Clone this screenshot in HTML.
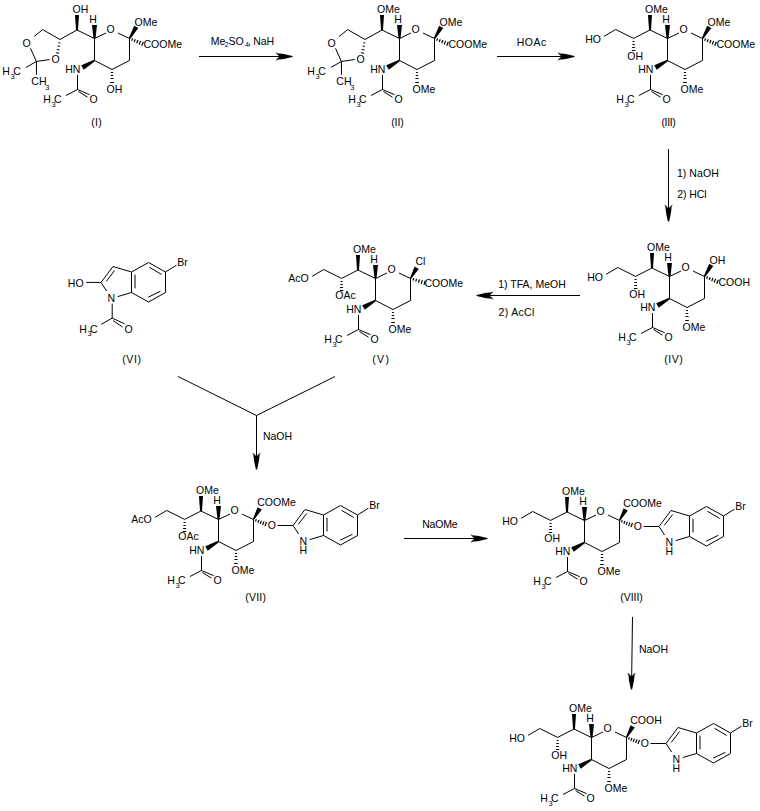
<!DOCTYPE html>
<html><head><meta charset="utf-8"><style>
html,body{margin:0;padding:0;background:#fff;}
svg{display:block;}
</style></head><body>
<svg width="760" height="811" viewBox="0 0 760 811">
<rect width="760" height="811" fill="#fff"/>
<g stroke="#000" fill="#000" font-family="Liberation Sans, sans-serif">
<g transform="translate(0,0)">
<line x1="94.50" y1="38.50" x2="106.00" y2="33.00" stroke-width="1.0"/>
<line x1="118.00" y1="33.00" x2="129.50" y2="38.50" stroke-width="1.0"/>
<line x1="129.50" y1="38.50" x2="129.50" y2="60.50" stroke-width="1.0"/>
<line x1="129.50" y1="60.50" x2="112.00" y2="69.50" stroke-width="1.0"/>
<line x1="112.00" y1="69.50" x2="94.50" y2="60.50" stroke-width="1.0"/>
<line x1="94.50" y1="60.50" x2="94.50" y2="38.50" stroke-width="1.0"/>
<text stroke="none" x="106.50" y="33.00" font-size="10.5">O</text>
<polygon stroke="none" points="93.50,38.50 95.50,38.50 97.00,25.00 92.00,25.00"/>
<text stroke="none" x="89.14" y="23.00" font-size="10.5">H</text>
<line x1="77.00" y1="30.00" x2="94.50" y2="38.50" stroke-width="1.0"/>
<polygon stroke="none" points="76.00,30.00 78.00,30.00 79.00,15.00 75.00,15.00"/>
<text stroke="none" x="72.50" y="13.00" font-size="10.5">OH</text>
<polygon stroke="none" points="94.88,61.15 94.12,59.85 81.24,65.34 83.76,69.66"/>
<text stroke="none" x="65.14" y="73.00" font-size="10.5">HN</text>
<line x1="77.50" y1="75.00" x2="77.50" y2="89.50" stroke-width="1.0"/>
<line x1="77.50" y1="89.50" x2="66.00" y2="95.50" stroke-width="1.0"/>
<line x1="77.50" y1="89.50" x2="89.70" y2="94.70" stroke-width="1.0"/>
<line x1="78.50" y1="91.50" x2="87.50" y2="97.20" stroke-width="1.0"/>
<text stroke="none" x="43.14" y="103.00" font-size="10.5">H</text>
<text stroke="none" x="51.51" y="106.80" font-size="7.5">3</text>
<text stroke="none" x="54.07" y="103.00" font-size="10.5">C</text>
<text stroke="none" x="89.50" y="103.00" font-size="10.5">O</text>
<line x1="110.99" y1="72.50" x2="113.01" y2="72.50" stroke-width="1.0"/>
<line x1="110.72" y1="75.50" x2="113.28" y2="75.50" stroke-width="1.0"/>
<line x1="110.46" y1="78.50" x2="113.54" y2="78.50" stroke-width="1.0"/>
<line x1="110.20" y1="82.50" x2="113.80" y2="82.50" stroke-width="1.0"/>
<text stroke="none" x="106.50" y="93.00" font-size="10.5">OH</text>
<line x1="77.00" y1="30.00" x2="60.00" y2="39.50" stroke-width="1.0"/>
<line x1="58.43" y1="42.70" x2="60.32" y2="43.05" stroke-width="1.0"/>
<line x1="57.59" y1="46.04" x2="59.91" y2="46.46" stroke-width="1.0"/>
<line x1="56.76" y1="49.37" x2="59.49" y2="49.88" stroke-width="1.0"/>
<line x1="55.93" y1="52.71" x2="59.07" y2="53.29" stroke-width="1.0"/>
<line x1="60.00" y1="39.50" x2="42.70" y2="29.60" stroke-width="1.0"/>
<line x1="42.70" y1="29.60" x2="34.10" y2="36.50" stroke-width="1.0"/>
<text stroke="none" x="22.50" y="47.00" font-size="10.5">O</text>
<line x1="30.50" y1="48.30" x2="36.40" y2="61.50" stroke-width="1.0"/>
<line x1="36.40" y1="61.50" x2="49.60" y2="59.50" stroke-width="1.0"/>
<text stroke="none" x="51.50" y="63.00" font-size="10.5">O</text>
<line x1="36.40" y1="61.50" x2="25.90" y2="67.40" stroke-width="1.0"/>
<line x1="36.40" y1="61.50" x2="36.50" y2="74.75" stroke-width="1.0"/>
<text stroke="none" x="2.24" y="75.00" font-size="10.5">H</text>
<text stroke="none" x="10.61" y="78.80" font-size="7.5">3</text>
<text stroke="none" x="13.17" y="75.00" font-size="10.5">C</text>
<text stroke="none" x="31.37" y="85.00" font-size="10.5">CH</text>
<text stroke="none" x="45.31" y="89.50" font-size="7.5">3</text>
<polygon stroke="none" points="128.85,38.12 130.15,38.88 138.32,28.11 134.18,25.69"/>
<text stroke="none" x="134.50" y="26.00" font-size="10.5">OMe</text>
<line x1="131.64" y1="40.70" x2="132.56" y2="38.40" stroke-width="1.2"/>
<line x1="134.15" y1="41.97" x2="135.25" y2="39.23" stroke-width="1.2"/>
<line x1="136.66" y1="43.24" x2="137.94" y2="40.06" stroke-width="1.2"/>
<line x1="139.17" y1="44.52" x2="140.63" y2="40.88" stroke-width="1.2"/>
<line x1="141.68" y1="45.79" x2="143.32" y2="41.71" stroke-width="1.2"/>
<text stroke="none" x="143.47" y="48.00" font-size="10.5">COOMe</text>
</g>
<g transform="translate(305,0)">
<line x1="94.50" y1="38.50" x2="106.00" y2="33.00" stroke-width="1.0"/>
<line x1="118.00" y1="33.00" x2="129.50" y2="38.50" stroke-width="1.0"/>
<line x1="129.50" y1="38.50" x2="129.50" y2="60.50" stroke-width="1.0"/>
<line x1="129.50" y1="60.50" x2="112.00" y2="69.50" stroke-width="1.0"/>
<line x1="112.00" y1="69.50" x2="94.50" y2="60.50" stroke-width="1.0"/>
<line x1="94.50" y1="60.50" x2="94.50" y2="38.50" stroke-width="1.0"/>
<text stroke="none" x="106.50" y="33.00" font-size="10.5">O</text>
<polygon stroke="none" points="93.50,38.50 95.50,38.50 97.00,25.00 92.00,25.00"/>
<text stroke="none" x="89.14" y="23.00" font-size="10.5">H</text>
<line x1="77.00" y1="30.00" x2="94.50" y2="38.50" stroke-width="1.0"/>
<polygon stroke="none" points="76.00,30.00 78.00,30.00 79.00,15.00 75.00,15.00"/>
<text stroke="none" x="72.10" y="13.00" font-size="10.5">OMe</text>
<polygon stroke="none" points="94.88,61.15 94.12,59.85 81.24,65.34 83.76,69.66"/>
<text stroke="none" x="65.14" y="73.00" font-size="10.5">HN</text>
<line x1="77.50" y1="75.00" x2="77.50" y2="89.50" stroke-width="1.0"/>
<line x1="77.50" y1="89.50" x2="66.00" y2="95.50" stroke-width="1.0"/>
<line x1="77.50" y1="89.50" x2="89.70" y2="94.70" stroke-width="1.0"/>
<line x1="78.50" y1="91.50" x2="87.50" y2="97.20" stroke-width="1.0"/>
<text stroke="none" x="43.14" y="103.00" font-size="10.5">H</text>
<text stroke="none" x="51.51" y="106.80" font-size="7.5">3</text>
<text stroke="none" x="54.07" y="103.00" font-size="10.5">C</text>
<text stroke="none" x="89.50" y="103.00" font-size="10.5">O</text>
<line x1="110.99" y1="72.50" x2="113.01" y2="72.50" stroke-width="1.0"/>
<line x1="110.72" y1="75.50" x2="113.28" y2="75.50" stroke-width="1.0"/>
<line x1="110.46" y1="78.50" x2="113.54" y2="78.50" stroke-width="1.0"/>
<line x1="110.20" y1="82.50" x2="113.80" y2="82.50" stroke-width="1.0"/>
<text stroke="none" x="107.50" y="93.00" font-size="10.5">OMe</text>
<line x1="77.00" y1="30.00" x2="60.00" y2="39.50" stroke-width="1.0"/>
<line x1="58.43" y1="42.70" x2="60.32" y2="43.05" stroke-width="1.0"/>
<line x1="57.59" y1="46.04" x2="59.91" y2="46.46" stroke-width="1.0"/>
<line x1="56.76" y1="49.37" x2="59.49" y2="49.88" stroke-width="1.0"/>
<line x1="55.93" y1="52.71" x2="59.07" y2="53.29" stroke-width="1.0"/>
<line x1="60.00" y1="39.50" x2="42.70" y2="29.60" stroke-width="1.0"/>
<line x1="42.70" y1="29.60" x2="34.10" y2="36.50" stroke-width="1.0"/>
<text stroke="none" x="22.50" y="47.00" font-size="10.5">O</text>
<line x1="30.50" y1="48.30" x2="36.40" y2="61.50" stroke-width="1.0"/>
<line x1="36.40" y1="61.50" x2="49.60" y2="59.50" stroke-width="1.0"/>
<text stroke="none" x="51.50" y="63.00" font-size="10.5">O</text>
<line x1="36.40" y1="61.50" x2="25.90" y2="67.40" stroke-width="1.0"/>
<line x1="36.40" y1="61.50" x2="36.50" y2="74.75" stroke-width="1.0"/>
<text stroke="none" x="2.24" y="75.00" font-size="10.5">H</text>
<text stroke="none" x="10.61" y="78.80" font-size="7.5">3</text>
<text stroke="none" x="13.17" y="75.00" font-size="10.5">C</text>
<text stroke="none" x="31.37" y="85.00" font-size="10.5">CH</text>
<text stroke="none" x="45.31" y="89.50" font-size="7.5">3</text>
<polygon stroke="none" points="128.85,38.12 130.15,38.88 138.32,28.11 134.18,25.69"/>
<text stroke="none" x="134.50" y="26.00" font-size="10.5">OMe</text>
<line x1="131.64" y1="40.70" x2="132.56" y2="38.40" stroke-width="1.2"/>
<line x1="134.15" y1="41.97" x2="135.25" y2="39.23" stroke-width="1.2"/>
<line x1="136.66" y1="43.24" x2="137.94" y2="40.06" stroke-width="1.2"/>
<line x1="139.17" y1="44.52" x2="140.63" y2="40.88" stroke-width="1.2"/>
<line x1="141.68" y1="45.79" x2="143.32" y2="41.71" stroke-width="1.2"/>
<text stroke="none" x="143.47" y="48.00" font-size="10.5">COOMe</text>
</g>
<g transform="translate(573,0)">
<line x1="94.50" y1="38.50" x2="106.00" y2="33.00" stroke-width="1.0"/>
<line x1="118.00" y1="33.00" x2="129.50" y2="38.50" stroke-width="1.0"/>
<line x1="129.50" y1="38.50" x2="129.50" y2="60.50" stroke-width="1.0"/>
<line x1="129.50" y1="60.50" x2="112.00" y2="69.50" stroke-width="1.0"/>
<line x1="112.00" y1="69.50" x2="94.50" y2="60.50" stroke-width="1.0"/>
<line x1="94.50" y1="60.50" x2="94.50" y2="38.50" stroke-width="1.0"/>
<text stroke="none" x="106.50" y="33.00" font-size="10.5">O</text>
<polygon stroke="none" points="93.50,38.50 95.50,38.50 97.00,25.00 92.00,25.00"/>
<text stroke="none" x="89.14" y="23.00" font-size="10.5">H</text>
<line x1="77.00" y1="30.00" x2="94.50" y2="38.50" stroke-width="1.0"/>
<polygon stroke="none" points="76.00,30.00 78.00,30.00 79.00,15.00 75.00,15.00"/>
<text stroke="none" x="72.10" y="13.00" font-size="10.5">OMe</text>
<polygon stroke="none" points="94.88,61.15 94.12,59.85 81.24,65.34 83.76,69.66"/>
<text stroke="none" x="65.14" y="73.00" font-size="10.5">HN</text>
<line x1="77.50" y1="75.00" x2="77.50" y2="89.50" stroke-width="1.0"/>
<line x1="77.50" y1="89.50" x2="66.00" y2="95.50" stroke-width="1.0"/>
<line x1="77.50" y1="89.50" x2="89.70" y2="94.70" stroke-width="1.0"/>
<line x1="78.50" y1="91.50" x2="87.50" y2="97.20" stroke-width="1.0"/>
<text stroke="none" x="43.14" y="103.00" font-size="10.5">H</text>
<text stroke="none" x="51.51" y="106.80" font-size="7.5">3</text>
<text stroke="none" x="54.07" y="103.00" font-size="10.5">C</text>
<text stroke="none" x="89.50" y="103.00" font-size="10.5">O</text>
<line x1="110.99" y1="72.50" x2="113.01" y2="72.50" stroke-width="1.0"/>
<line x1="110.72" y1="75.50" x2="113.28" y2="75.50" stroke-width="1.0"/>
<line x1="110.46" y1="78.50" x2="113.54" y2="78.50" stroke-width="1.0"/>
<line x1="110.20" y1="82.50" x2="113.80" y2="82.50" stroke-width="1.0"/>
<text stroke="none" x="107.50" y="93.00" font-size="10.5">OMe</text>
<line x1="77.00" y1="30.00" x2="60.60" y2="38.40" stroke-width="1.0"/>
<line x1="59.61" y1="41.50" x2="61.59" y2="41.50" stroke-width="1.0"/>
<line x1="59.38" y1="44.50" x2="61.83" y2="44.50" stroke-width="1.0"/>
<line x1="59.14" y1="47.50" x2="62.06" y2="47.50" stroke-width="1.0"/>
<line x1="58.90" y1="50.50" x2="62.30" y2="50.50" stroke-width="1.0"/>
<text stroke="none" x="54.30" y="60.00" font-size="10.5">OH</text>
<line x1="60.60" y1="38.40" x2="42.70" y2="29.50" stroke-width="1.0"/>
<line x1="42.70" y1="29.50" x2="31.10" y2="36.30" stroke-width="1.0"/>
<text stroke="none" x="12.14" y="43.00" font-size="10.5">HO</text>
<polygon stroke="none" points="128.85,38.12 130.15,38.88 138.32,28.11 134.18,25.69"/>
<text stroke="none" x="134.50" y="26.00" font-size="10.5">OMe</text>
<line x1="131.64" y1="40.70" x2="132.56" y2="38.40" stroke-width="1.2"/>
<line x1="134.15" y1="41.97" x2="135.25" y2="39.23" stroke-width="1.2"/>
<line x1="136.66" y1="43.24" x2="137.94" y2="40.06" stroke-width="1.2"/>
<line x1="139.17" y1="44.52" x2="140.63" y2="40.88" stroke-width="1.2"/>
<line x1="141.68" y1="45.79" x2="143.32" y2="41.71" stroke-width="1.2"/>
<text stroke="none" x="143.47" y="48.00" font-size="10.5">COOMe</text>
</g>
<g transform="translate(575,238)">
<line x1="94.50" y1="38.50" x2="106.00" y2="33.00" stroke-width="1.0"/>
<line x1="118.00" y1="33.00" x2="129.50" y2="38.50" stroke-width="1.0"/>
<line x1="129.50" y1="38.50" x2="129.50" y2="60.50" stroke-width="1.0"/>
<line x1="129.50" y1="60.50" x2="112.00" y2="69.50" stroke-width="1.0"/>
<line x1="112.00" y1="69.50" x2="94.50" y2="60.50" stroke-width="1.0"/>
<line x1="94.50" y1="60.50" x2="94.50" y2="38.50" stroke-width="1.0"/>
<text stroke="none" x="106.50" y="33.00" font-size="10.5">O</text>
<polygon stroke="none" points="93.50,38.50 95.50,38.50 97.00,25.00 92.00,25.00"/>
<text stroke="none" x="89.14" y="23.00" font-size="10.5">H</text>
<line x1="77.00" y1="30.00" x2="94.50" y2="38.50" stroke-width="1.0"/>
<polygon stroke="none" points="76.00,30.00 78.00,30.00 79.00,15.00 75.00,15.00"/>
<text stroke="none" x="72.10" y="13.00" font-size="10.5">OMe</text>
<polygon stroke="none" points="94.88,61.15 94.12,59.85 81.24,65.34 83.76,69.66"/>
<text stroke="none" x="65.14" y="73.00" font-size="10.5">HN</text>
<line x1="77.50" y1="75.00" x2="77.50" y2="89.50" stroke-width="1.0"/>
<line x1="77.50" y1="89.50" x2="66.00" y2="95.50" stroke-width="1.0"/>
<line x1="77.50" y1="89.50" x2="89.70" y2="94.70" stroke-width="1.0"/>
<line x1="78.50" y1="91.50" x2="87.50" y2="97.20" stroke-width="1.0"/>
<text stroke="none" x="43.14" y="103.00" font-size="10.5">H</text>
<text stroke="none" x="51.51" y="106.80" font-size="7.5">3</text>
<text stroke="none" x="54.07" y="103.00" font-size="10.5">C</text>
<text stroke="none" x="89.50" y="103.00" font-size="10.5">O</text>
<line x1="110.99" y1="72.50" x2="113.01" y2="72.50" stroke-width="1.0"/>
<line x1="110.72" y1="75.50" x2="113.28" y2="75.50" stroke-width="1.0"/>
<line x1="110.46" y1="78.50" x2="113.54" y2="78.50" stroke-width="1.0"/>
<line x1="110.20" y1="82.50" x2="113.80" y2="82.50" stroke-width="1.0"/>
<text stroke="none" x="107.50" y="93.00" font-size="10.5">OMe</text>
<line x1="77.00" y1="30.00" x2="60.60" y2="38.40" stroke-width="1.0"/>
<line x1="59.61" y1="41.50" x2="61.59" y2="41.50" stroke-width="1.0"/>
<line x1="59.38" y1="44.50" x2="61.83" y2="44.50" stroke-width="1.0"/>
<line x1="59.14" y1="47.50" x2="62.06" y2="47.50" stroke-width="1.0"/>
<line x1="58.90" y1="50.50" x2="62.30" y2="50.50" stroke-width="1.0"/>
<text stroke="none" x="54.30" y="60.00" font-size="10.5">OH</text>
<line x1="60.60" y1="38.40" x2="42.70" y2="29.50" stroke-width="1.0"/>
<line x1="42.70" y1="29.50" x2="31.10" y2="36.30" stroke-width="1.0"/>
<text stroke="none" x="12.14" y="43.00" font-size="10.5">HO</text>
<polygon stroke="none" points="128.85,38.12 130.15,38.88 138.32,28.11 134.18,25.69"/>
<text stroke="none" x="134.50" y="26.00" font-size="10.5">OH</text>
<line x1="131.64" y1="40.70" x2="132.56" y2="38.40" stroke-width="1.2"/>
<line x1="134.15" y1="41.97" x2="135.25" y2="39.23" stroke-width="1.2"/>
<line x1="136.66" y1="43.24" x2="137.94" y2="40.06" stroke-width="1.2"/>
<line x1="139.17" y1="44.52" x2="140.63" y2="40.88" stroke-width="1.2"/>
<line x1="141.68" y1="45.79" x2="143.32" y2="41.71" stroke-width="1.2"/>
<text stroke="none" x="143.47" y="48.00" font-size="10.5">COOH</text>
</g>
<g transform="translate(281,240)">
<line x1="94.50" y1="38.50" x2="106.00" y2="33.00" stroke-width="1.0"/>
<line x1="118.00" y1="33.00" x2="129.50" y2="38.50" stroke-width="1.0"/>
<line x1="129.50" y1="38.50" x2="129.50" y2="60.50" stroke-width="1.0"/>
<line x1="129.50" y1="60.50" x2="112.00" y2="69.50" stroke-width="1.0"/>
<line x1="112.00" y1="69.50" x2="94.50" y2="60.50" stroke-width="1.0"/>
<line x1="94.50" y1="60.50" x2="94.50" y2="38.50" stroke-width="1.0"/>
<text stroke="none" x="106.50" y="33.00" font-size="10.5">O</text>
<polygon stroke="none" points="93.50,38.50 95.50,38.50 97.00,25.00 92.00,25.00"/>
<text stroke="none" x="89.14" y="23.00" font-size="10.5">H</text>
<line x1="77.00" y1="30.00" x2="94.50" y2="38.50" stroke-width="1.0"/>
<polygon stroke="none" points="76.00,30.00 78.00,30.00 79.00,15.00 75.00,15.00"/>
<text stroke="none" x="72.10" y="13.00" font-size="10.5">OMe</text>
<polygon stroke="none" points="94.88,61.15 94.12,59.85 81.24,65.34 83.76,69.66"/>
<text stroke="none" x="65.14" y="73.00" font-size="10.5">HN</text>
<line x1="77.50" y1="75.00" x2="77.50" y2="89.50" stroke-width="1.0"/>
<line x1="77.50" y1="89.50" x2="66.00" y2="95.50" stroke-width="1.0"/>
<line x1="77.50" y1="89.50" x2="89.70" y2="94.70" stroke-width="1.0"/>
<line x1="78.50" y1="91.50" x2="87.50" y2="97.20" stroke-width="1.0"/>
<text stroke="none" x="43.14" y="103.00" font-size="10.5">H</text>
<text stroke="none" x="51.51" y="106.80" font-size="7.5">3</text>
<text stroke="none" x="54.07" y="103.00" font-size="10.5">C</text>
<text stroke="none" x="89.50" y="103.00" font-size="10.5">O</text>
<line x1="110.99" y1="72.50" x2="113.01" y2="72.50" stroke-width="1.0"/>
<line x1="110.72" y1="75.50" x2="113.28" y2="75.50" stroke-width="1.0"/>
<line x1="110.46" y1="78.50" x2="113.54" y2="78.50" stroke-width="1.0"/>
<line x1="110.20" y1="82.50" x2="113.80" y2="82.50" stroke-width="1.0"/>
<text stroke="none" x="107.50" y="93.00" font-size="10.5">OMe</text>
<line x1="77.00" y1="30.00" x2="60.60" y2="38.40" stroke-width="1.0"/>
<line x1="59.61" y1="41.50" x2="61.59" y2="41.50" stroke-width="1.0"/>
<line x1="59.38" y1="44.50" x2="61.83" y2="44.50" stroke-width="1.0"/>
<line x1="59.14" y1="47.50" x2="62.06" y2="47.50" stroke-width="1.0"/>
<line x1="58.90" y1="50.50" x2="62.30" y2="50.50" stroke-width="1.0"/>
<text stroke="none" x="54.30" y="59.00" font-size="10.5">OAc</text>
<line x1="60.60" y1="38.40" x2="42.70" y2="29.50" stroke-width="1.0"/>
<line x1="42.70" y1="29.50" x2="31.10" y2="36.30" stroke-width="1.0"/>
<text stroke="none" x="7.18" y="42.00" font-size="10.5">AcO</text>
<polygon stroke="none" points="128.85,38.13 130.15,38.87 137.78,28.89 133.62,26.51"/>
<text stroke="none" x="134.47" y="25.00" font-size="10.5">Cl</text>
<line x1="131.96" y1="40.55" x2="132.68" y2="38.17" stroke-width="1.2"/>
<line x1="134.71" y1="41.64" x2="135.57" y2="38.80" stroke-width="1.2"/>
<line x1="137.46" y1="42.73" x2="138.46" y2="39.43" stroke-width="1.2"/>
<line x1="140.21" y1="43.81" x2="141.35" y2="40.07" stroke-width="1.2"/>
<line x1="142.96" y1="44.90" x2="144.24" y2="40.70" stroke-width="1.2"/>
<text stroke="none" x="143.47" y="47.00" font-size="10.5">COOMe</text>
</g>
<g transform="translate(124,481)">
<line x1="94.50" y1="38.50" x2="106.00" y2="33.00" stroke-width="1.0"/>
<line x1="118.00" y1="33.00" x2="129.50" y2="38.50" stroke-width="1.0"/>
<line x1="129.50" y1="38.50" x2="129.50" y2="60.50" stroke-width="1.0"/>
<line x1="129.50" y1="60.50" x2="112.00" y2="69.50" stroke-width="1.0"/>
<line x1="112.00" y1="69.50" x2="94.50" y2="60.50" stroke-width="1.0"/>
<line x1="94.50" y1="60.50" x2="94.50" y2="38.50" stroke-width="1.0"/>
<text stroke="none" x="106.50" y="33.00" font-size="10.5">O</text>
<polygon stroke="none" points="93.50,38.50 95.50,38.50 97.00,25.00 92.00,25.00"/>
<text stroke="none" x="89.14" y="23.00" font-size="10.5">H</text>
<line x1="77.00" y1="30.00" x2="94.50" y2="38.50" stroke-width="1.0"/>
<polygon stroke="none" points="76.00,30.00 78.00,30.00 79.00,15.00 75.00,15.00"/>
<text stroke="none" x="72.10" y="13.00" font-size="10.5">OMe</text>
<polygon stroke="none" points="94.88,61.15 94.12,59.85 81.24,65.34 83.76,69.66"/>
<text stroke="none" x="65.14" y="73.00" font-size="10.5">HN</text>
<line x1="77.50" y1="75.00" x2="77.50" y2="89.50" stroke-width="1.0"/>
<line x1="77.50" y1="89.50" x2="66.00" y2="95.50" stroke-width="1.0"/>
<line x1="77.50" y1="89.50" x2="89.70" y2="94.70" stroke-width="1.0"/>
<line x1="78.50" y1="91.50" x2="87.50" y2="97.20" stroke-width="1.0"/>
<text stroke="none" x="43.14" y="103.00" font-size="10.5">H</text>
<text stroke="none" x="51.51" y="106.80" font-size="7.5">3</text>
<text stroke="none" x="54.07" y="103.00" font-size="10.5">C</text>
<text stroke="none" x="89.50" y="103.00" font-size="10.5">O</text>
<line x1="110.99" y1="72.50" x2="113.01" y2="72.50" stroke-width="1.0"/>
<line x1="110.72" y1="75.50" x2="113.28" y2="75.50" stroke-width="1.0"/>
<line x1="110.46" y1="78.50" x2="113.54" y2="78.50" stroke-width="1.0"/>
<line x1="110.20" y1="82.50" x2="113.80" y2="82.50" stroke-width="1.0"/>
<text stroke="none" x="107.50" y="93.00" font-size="10.5">OMe</text>
<line x1="77.00" y1="30.00" x2="60.60" y2="38.40" stroke-width="1.0"/>
<line x1="59.61" y1="41.50" x2="61.59" y2="41.50" stroke-width="1.0"/>
<line x1="59.38" y1="44.50" x2="61.83" y2="44.50" stroke-width="1.0"/>
<line x1="59.14" y1="47.50" x2="62.06" y2="47.50" stroke-width="1.0"/>
<line x1="58.90" y1="50.50" x2="62.30" y2="50.50" stroke-width="1.0"/>
<text stroke="none" x="54.30" y="59.00" font-size="10.5">OAc</text>
<line x1="60.60" y1="38.40" x2="42.70" y2="29.50" stroke-width="1.0"/>
<line x1="42.70" y1="29.50" x2="31.10" y2="36.30" stroke-width="1.0"/>
<text stroke="none" x="7.18" y="42.00" font-size="10.5">AcO</text>
<polygon stroke="none" points="128.84,38.14 130.16,38.86 137.80,28.46 133.60,26.14"/>
<text stroke="none" x="133.27" y="25.00" font-size="10.5">COOMe</text>
<line x1="131.50" y1="40.58" x2="132.38" y2="38.26" stroke-width="1.2"/>
<line x1="133.86" y1="41.72" x2="134.90" y2="38.96" stroke-width="1.2"/>
<line x1="136.21" y1="42.87" x2="137.43" y2="39.65" stroke-width="1.2"/>
<line x1="138.57" y1="44.01" x2="139.95" y2="40.35" stroke-width="1.2"/>
<line x1="140.92" y1="45.16" x2="142.48" y2="41.04" stroke-width="1.2"/>
<text stroke="none" x="143.80" y="48.00" font-size="10.5">O</text>
<line x1="153.50" y1="44.50" x2="169.00" y2="44.50" stroke-width="1.0"/>
<g transform="translate(-124,-481)">
<line x1="293.00" y1="525.50" x2="305.00" y2="509.50" stroke-width="1.0"/>
<line x1="305.00" y1="509.50" x2="323.50" y2="515.00" stroke-width="1.0"/>
<line x1="323.50" y1="515.00" x2="340.50" y2="505.50" stroke-width="1.0"/>
<line x1="340.50" y1="505.50" x2="357.50" y2="515.00" stroke-width="1.0"/>
<line x1="357.50" y1="515.00" x2="357.50" y2="535.50" stroke-width="1.0"/>
<line x1="357.50" y1="535.50" x2="340.50" y2="545.00" stroke-width="1.0"/>
<line x1="340.50" y1="545.00" x2="323.50" y2="535.50" stroke-width="1.0"/>
<line x1="323.50" y1="535.50" x2="323.50" y2="515.00" stroke-width="1.0"/>
<line x1="323.50" y1="535.50" x2="309.70" y2="539.60" stroke-width="1.0"/>
<line x1="298.60" y1="534.00" x2="293.00" y2="525.50" stroke-width="1.0"/>
<line x1="298.30" y1="524.40" x2="306.60" y2="513.50" stroke-width="1.0"/>
<line x1="327.00" y1="517.60" x2="327.00" y2="531.40" stroke-width="1.0"/>
<line x1="341.50" y1="510.30" x2="353.70" y2="517.50" stroke-width="1.0"/>
<line x1="340.20" y1="540.20" x2="352.40" y2="534.30" stroke-width="1.0"/>
<text stroke="none" x="299.54" y="545.00" font-size="10.5">N</text>
<text stroke="none" x="299.54" y="554.00" font-size="10.5">H</text>
<line x1="357.50" y1="515.00" x2="368.40" y2="508.20" stroke-width="1.0"/>
<text stroke="none" x="369.14" y="509.00" font-size="10.5">Br</text>
</g>
</g>
<g transform="translate(490,482)">
<line x1="94.50" y1="38.50" x2="106.00" y2="33.00" stroke-width="1.0"/>
<line x1="118.00" y1="33.00" x2="129.50" y2="38.50" stroke-width="1.0"/>
<line x1="129.50" y1="38.50" x2="129.50" y2="60.50" stroke-width="1.0"/>
<line x1="129.50" y1="60.50" x2="112.00" y2="69.50" stroke-width="1.0"/>
<line x1="112.00" y1="69.50" x2="94.50" y2="60.50" stroke-width="1.0"/>
<line x1="94.50" y1="60.50" x2="94.50" y2="38.50" stroke-width="1.0"/>
<text stroke="none" x="106.50" y="33.00" font-size="10.5">O</text>
<polygon stroke="none" points="93.50,38.50 95.50,38.50 97.00,25.00 92.00,25.00"/>
<text stroke="none" x="89.14" y="23.00" font-size="10.5">H</text>
<line x1="77.00" y1="30.00" x2="94.50" y2="38.50" stroke-width="1.0"/>
<polygon stroke="none" points="76.00,30.00 78.00,30.00 79.00,15.00 75.00,15.00"/>
<text stroke="none" x="72.10" y="13.00" font-size="10.5">OMe</text>
<polygon stroke="none" points="94.88,61.15 94.12,59.85 81.24,65.34 83.76,69.66"/>
<text stroke="none" x="65.14" y="73.00" font-size="10.5">HN</text>
<line x1="77.50" y1="75.00" x2="77.50" y2="89.50" stroke-width="1.0"/>
<line x1="77.50" y1="89.50" x2="66.00" y2="95.50" stroke-width="1.0"/>
<line x1="77.50" y1="89.50" x2="89.70" y2="94.70" stroke-width="1.0"/>
<line x1="78.50" y1="91.50" x2="87.50" y2="97.20" stroke-width="1.0"/>
<text stroke="none" x="43.14" y="103.00" font-size="10.5">H</text>
<text stroke="none" x="51.51" y="106.80" font-size="7.5">3</text>
<text stroke="none" x="54.07" y="103.00" font-size="10.5">C</text>
<text stroke="none" x="89.50" y="103.00" font-size="10.5">O</text>
<line x1="110.99" y1="72.50" x2="113.01" y2="72.50" stroke-width="1.0"/>
<line x1="110.72" y1="75.50" x2="113.28" y2="75.50" stroke-width="1.0"/>
<line x1="110.46" y1="78.50" x2="113.54" y2="78.50" stroke-width="1.0"/>
<line x1="110.20" y1="82.50" x2="113.80" y2="82.50" stroke-width="1.0"/>
<text stroke="none" x="107.50" y="93.00" font-size="10.5">OMe</text>
<line x1="77.00" y1="30.00" x2="60.60" y2="38.40" stroke-width="1.0"/>
<line x1="59.61" y1="41.50" x2="61.59" y2="41.50" stroke-width="1.0"/>
<line x1="59.38" y1="44.50" x2="61.83" y2="44.50" stroke-width="1.0"/>
<line x1="59.14" y1="47.50" x2="62.06" y2="47.50" stroke-width="1.0"/>
<line x1="58.90" y1="50.50" x2="62.30" y2="50.50" stroke-width="1.0"/>
<text stroke="none" x="54.30" y="60.00" font-size="10.5">OH</text>
<line x1="60.60" y1="38.40" x2="42.70" y2="29.50" stroke-width="1.0"/>
<line x1="42.70" y1="29.50" x2="31.10" y2="36.30" stroke-width="1.0"/>
<text stroke="none" x="12.14" y="43.00" font-size="10.5">HO</text>
<polygon stroke="none" points="128.84,38.14 130.16,38.86 137.80,28.46 133.60,26.14"/>
<text stroke="none" x="133.27" y="25.00" font-size="10.5">COOMe</text>
<line x1="131.50" y1="40.58" x2="132.38" y2="38.26" stroke-width="1.2"/>
<line x1="133.86" y1="41.72" x2="134.90" y2="38.96" stroke-width="1.2"/>
<line x1="136.21" y1="42.87" x2="137.43" y2="39.65" stroke-width="1.2"/>
<line x1="138.57" y1="44.01" x2="139.95" y2="40.35" stroke-width="1.2"/>
<line x1="140.92" y1="45.16" x2="142.48" y2="41.04" stroke-width="1.2"/>
<text stroke="none" x="143.80" y="48.00" font-size="10.5">O</text>
<line x1="153.50" y1="44.50" x2="169.00" y2="44.50" stroke-width="1.0"/>
<g transform="translate(-124,-481)">
<line x1="293.00" y1="525.50" x2="305.00" y2="509.50" stroke-width="1.0"/>
<line x1="305.00" y1="509.50" x2="323.50" y2="515.00" stroke-width="1.0"/>
<line x1="323.50" y1="515.00" x2="340.50" y2="505.50" stroke-width="1.0"/>
<line x1="340.50" y1="505.50" x2="357.50" y2="515.00" stroke-width="1.0"/>
<line x1="357.50" y1="515.00" x2="357.50" y2="535.50" stroke-width="1.0"/>
<line x1="357.50" y1="535.50" x2="340.50" y2="545.00" stroke-width="1.0"/>
<line x1="340.50" y1="545.00" x2="323.50" y2="535.50" stroke-width="1.0"/>
<line x1="323.50" y1="535.50" x2="323.50" y2="515.00" stroke-width="1.0"/>
<line x1="323.50" y1="535.50" x2="309.70" y2="539.60" stroke-width="1.0"/>
<line x1="298.60" y1="534.00" x2="293.00" y2="525.50" stroke-width="1.0"/>
<line x1="298.30" y1="524.40" x2="306.60" y2="513.50" stroke-width="1.0"/>
<line x1="327.00" y1="517.60" x2="327.00" y2="531.40" stroke-width="1.0"/>
<line x1="341.50" y1="510.30" x2="353.70" y2="517.50" stroke-width="1.0"/>
<line x1="340.20" y1="540.20" x2="352.40" y2="534.30" stroke-width="1.0"/>
<text stroke="none" x="299.54" y="545.00" font-size="10.5">N</text>
<text stroke="none" x="299.54" y="554.00" font-size="10.5">H</text>
<line x1="357.50" y1="515.00" x2="368.40" y2="508.20" stroke-width="1.0"/>
<text stroke="none" x="369.14" y="509.00" font-size="10.5">Br</text>
</g>
</g>
<g transform="translate(497,699)">
<line x1="94.50" y1="38.50" x2="106.00" y2="33.00" stroke-width="1.0"/>
<line x1="118.00" y1="33.00" x2="129.50" y2="38.50" stroke-width="1.0"/>
<line x1="129.50" y1="38.50" x2="129.50" y2="60.50" stroke-width="1.0"/>
<line x1="129.50" y1="60.50" x2="112.00" y2="69.50" stroke-width="1.0"/>
<line x1="112.00" y1="69.50" x2="94.50" y2="60.50" stroke-width="1.0"/>
<line x1="94.50" y1="60.50" x2="94.50" y2="38.50" stroke-width="1.0"/>
<text stroke="none" x="106.50" y="33.00" font-size="10.5">O</text>
<polygon stroke="none" points="93.50,38.50 95.50,38.50 97.00,25.00 92.00,25.00"/>
<text stroke="none" x="89.14" y="23.00" font-size="10.5">H</text>
<line x1="77.00" y1="30.00" x2="94.50" y2="38.50" stroke-width="1.0"/>
<polygon stroke="none" points="76.00,30.00 78.00,30.00 79.00,15.00 75.00,15.00"/>
<text stroke="none" x="72.10" y="13.00" font-size="10.5">OMe</text>
<polygon stroke="none" points="94.88,61.15 94.12,59.85 81.24,65.34 83.76,69.66"/>
<text stroke="none" x="65.14" y="73.00" font-size="10.5">HN</text>
<line x1="77.50" y1="75.00" x2="77.50" y2="89.50" stroke-width="1.0"/>
<line x1="77.50" y1="89.50" x2="66.00" y2="95.50" stroke-width="1.0"/>
<line x1="77.50" y1="89.50" x2="89.70" y2="94.70" stroke-width="1.0"/>
<line x1="78.50" y1="91.50" x2="87.50" y2="97.20" stroke-width="1.0"/>
<text stroke="none" x="43.14" y="103.00" font-size="10.5">H</text>
<text stroke="none" x="51.51" y="106.80" font-size="7.5">3</text>
<text stroke="none" x="54.07" y="103.00" font-size="10.5">C</text>
<text stroke="none" x="89.50" y="103.00" font-size="10.5">O</text>
<line x1="110.99" y1="72.50" x2="113.01" y2="72.50" stroke-width="1.0"/>
<line x1="110.72" y1="75.50" x2="113.28" y2="75.50" stroke-width="1.0"/>
<line x1="110.46" y1="78.50" x2="113.54" y2="78.50" stroke-width="1.0"/>
<line x1="110.20" y1="82.50" x2="113.80" y2="82.50" stroke-width="1.0"/>
<text stroke="none" x="107.50" y="93.00" font-size="10.5">OMe</text>
<line x1="77.00" y1="30.00" x2="60.60" y2="38.40" stroke-width="1.0"/>
<line x1="59.61" y1="41.50" x2="61.59" y2="41.50" stroke-width="1.0"/>
<line x1="59.38" y1="44.50" x2="61.83" y2="44.50" stroke-width="1.0"/>
<line x1="59.14" y1="47.50" x2="62.06" y2="47.50" stroke-width="1.0"/>
<line x1="58.90" y1="50.50" x2="62.30" y2="50.50" stroke-width="1.0"/>
<text stroke="none" x="54.30" y="60.00" font-size="10.5">OH</text>
<line x1="60.60" y1="38.40" x2="42.70" y2="29.50" stroke-width="1.0"/>
<line x1="42.70" y1="29.50" x2="31.10" y2="36.30" stroke-width="1.0"/>
<text stroke="none" x="12.14" y="43.00" font-size="10.5">HO</text>
<polygon stroke="none" points="128.84,38.14 130.16,38.86 137.80,28.46 133.60,26.14"/>
<text stroke="none" x="133.27" y="25.00" font-size="10.5">COOH</text>
<line x1="131.50" y1="40.58" x2="132.38" y2="38.26" stroke-width="1.2"/>
<line x1="133.86" y1="41.72" x2="134.90" y2="38.96" stroke-width="1.2"/>
<line x1="136.21" y1="42.87" x2="137.43" y2="39.65" stroke-width="1.2"/>
<line x1="138.57" y1="44.01" x2="139.95" y2="40.35" stroke-width="1.2"/>
<line x1="140.92" y1="45.16" x2="142.48" y2="41.04" stroke-width="1.2"/>
<text stroke="none" x="143.80" y="48.00" font-size="10.5">O</text>
<line x1="153.50" y1="44.50" x2="169.00" y2="44.50" stroke-width="1.0"/>
<g transform="translate(-124,-481)">
<line x1="293.00" y1="525.50" x2="305.00" y2="509.50" stroke-width="1.0"/>
<line x1="305.00" y1="509.50" x2="323.50" y2="515.00" stroke-width="1.0"/>
<line x1="323.50" y1="515.00" x2="340.50" y2="505.50" stroke-width="1.0"/>
<line x1="340.50" y1="505.50" x2="357.50" y2="515.00" stroke-width="1.0"/>
<line x1="357.50" y1="515.00" x2="357.50" y2="535.50" stroke-width="1.0"/>
<line x1="357.50" y1="535.50" x2="340.50" y2="545.00" stroke-width="1.0"/>
<line x1="340.50" y1="545.00" x2="323.50" y2="535.50" stroke-width="1.0"/>
<line x1="323.50" y1="535.50" x2="323.50" y2="515.00" stroke-width="1.0"/>
<line x1="323.50" y1="535.50" x2="309.70" y2="539.60" stroke-width="1.0"/>
<line x1="298.60" y1="534.00" x2="293.00" y2="525.50" stroke-width="1.0"/>
<line x1="298.30" y1="524.40" x2="306.60" y2="513.50" stroke-width="1.0"/>
<line x1="327.00" y1="517.60" x2="327.00" y2="531.40" stroke-width="1.0"/>
<line x1="341.50" y1="510.30" x2="353.70" y2="517.50" stroke-width="1.0"/>
<line x1="340.20" y1="540.20" x2="352.40" y2="534.30" stroke-width="1.0"/>
<text stroke="none" x="299.54" y="545.00" font-size="10.5">N</text>
<text stroke="none" x="299.54" y="554.00" font-size="10.5">H</text>
<line x1="357.50" y1="515.00" x2="368.40" y2="508.20" stroke-width="1.0"/>
<text stroke="none" x="369.14" y="509.00" font-size="10.5">Br</text>
</g>
</g>
<g transform="translate(-192,-243)">
<g transform="translate(0,0)">
<line x1="293.00" y1="525.50" x2="305.00" y2="509.50" stroke-width="1.0"/>
<line x1="305.00" y1="509.50" x2="323.50" y2="515.00" stroke-width="1.0"/>
<line x1="323.50" y1="515.00" x2="340.50" y2="505.50" stroke-width="1.0"/>
<line x1="340.50" y1="505.50" x2="357.50" y2="515.00" stroke-width="1.0"/>
<line x1="357.50" y1="515.00" x2="357.50" y2="535.50" stroke-width="1.0"/>
<line x1="357.50" y1="535.50" x2="340.50" y2="545.00" stroke-width="1.0"/>
<line x1="340.50" y1="545.00" x2="323.50" y2="535.50" stroke-width="1.0"/>
<line x1="323.50" y1="535.50" x2="323.50" y2="515.00" stroke-width="1.0"/>
<line x1="323.50" y1="535.50" x2="309.70" y2="539.60" stroke-width="1.0"/>
<line x1="298.60" y1="534.00" x2="293.00" y2="525.50" stroke-width="1.0"/>
<line x1="298.30" y1="524.40" x2="306.60" y2="513.50" stroke-width="1.0"/>
<line x1="327.00" y1="517.60" x2="327.00" y2="531.40" stroke-width="1.0"/>
<line x1="341.50" y1="510.30" x2="353.70" y2="517.50" stroke-width="1.0"/>
<line x1="340.20" y1="540.20" x2="352.40" y2="534.30" stroke-width="1.0"/>
<text stroke="none" x="299.54" y="545.00" font-size="10.5">N</text>
<line x1="357.50" y1="515.00" x2="368.40" y2="508.20" stroke-width="1.0"/>
<text stroke="none" x="369.14" y="509.00" font-size="10.5">Br</text>
</g>
</g>
<text stroke="none" x="67.84" y="286.50" font-size="10.5">HO</text>
<line x1="86.30" y1="282.40" x2="100.80" y2="282.40" stroke-width="1.0"/>
<line x1="112.20" y1="303.60" x2="112.20" y2="318.10" stroke-width="1.0"/>
<line x1="112.20" y1="318.10" x2="101.30" y2="324.30" stroke-width="1.0"/>
<line x1="112.20" y1="318.10" x2="124.60" y2="323.80" stroke-width="1.0"/>
<line x1="113.00" y1="320.50" x2="122.50" y2="327.00" stroke-width="1.0"/>
<text stroke="none" x="79.14" y="332.50" font-size="10.5">H</text>
<text stroke="none" x="87.51" y="336.30" font-size="7.5">3</text>
<text stroke="none" x="90.07" y="332.50" font-size="10.5">C</text>
<text stroke="none" x="124.60" y="333.00" font-size="10.5">O</text>
<line x1="199.00" y1="56.50" x2="291.00" y2="56.50" stroke-width="1.0"/>
<polygon stroke="none" points="292.50,55.90 288.00,54.90 284.00,54.10 280.00,53.60 278.00,53.50 275.70,52.30 276.50,53.70 279.00,56.00 279.00,57.00 276.50,59.30 275.70,60.70 278.00,59.50 280.00,59.40 284.00,58.90 288.00,58.10 292.50,57.10"/>
<text stroke="none" x="210.74" y="44.50" font-size="10.5">Me</text>
<text stroke="none" x="224.65" y="47.00" font-size="7">2</text>
<text stroke="none" x="228.52" y="44.50" font-size="10.5">SO</text>
<text stroke="none" x="244.94" y="47.00" font-size="7">4</text>
<text stroke="none" x="248.06" y="44.50" font-size="10.5">,</text>
<text stroke="none" x="253.14" y="44.50" font-size="10.5">NaH</text>
<line x1="497.00" y1="56.50" x2="573.00" y2="56.50" stroke-width="1.0"/>
<polygon stroke="none" points="574.50,55.90 570.00,54.90 566.00,54.10 562.00,53.60 560.00,53.50 557.70,52.30 558.50,53.70 561.00,56.00 561.00,57.00 558.50,59.30 557.70,60.70 560.00,59.50 562.00,59.40 566.00,58.90 570.00,58.10 574.50,57.10"/>
<text stroke="none" x="516.74" y="46" font-size="10.5" letter-spacing="0.478">HOAc</text>
<line x1="668.50" y1="149.00" x2="668.50" y2="220.00" stroke-width="1.0"/>
<polygon stroke="none" points="669.10,221.50 670.10,217.00 670.90,213.00 671.40,209.00 671.50,207.00 672.70,204.70 671.30,205.50 669.00,208.00 668.00,208.00 665.70,205.50 664.30,204.70 665.50,207.00 665.60,209.00 666.10,213.00 666.90,217.00 667.90,221.50"/>
<text stroke="none" x="676.90" y="177" font-size="10.5" letter-spacing="0.072">1) NaOH</text>
<text stroke="none" x="677.17" y="198" font-size="10.5" letter-spacing="-0.044">2) HCl</text>
<line x1="478.00" y1="295.50" x2="580.00" y2="295.50" stroke-width="1.0"/>
<polygon stroke="none" points="476.50,296.10 481.00,297.10 485.00,297.90 489.00,298.40 491.00,298.50 493.30,299.70 492.50,298.30 490.00,296.00 490.00,295.00 492.50,292.70 493.30,291.30 491.00,292.50 489.00,292.60 485.00,293.10 481.00,293.90 476.50,294.90"/>
<text stroke="none" x="498.20" y="288" font-size="10.5" letter-spacing="0.009">1) TFA, MeOH</text>
<text stroke="none" x="498.47" y="316" font-size="10.5" letter-spacing="0.335">2) AcCl</text>
<line x1="178.00" y1="376.50" x2="256.50" y2="415.50" stroke-width="1.0"/>
<line x1="335.00" y1="376.50" x2="256.50" y2="415.50" stroke-width="1.0"/>
<line x1="256.50" y1="415.50" x2="256.50" y2="468.00" stroke-width="1.0"/>
<polygon stroke="none" points="257.10,469.50 258.10,465.00 258.90,461.00 259.40,457.00 259.50,455.00 260.70,452.70 259.30,453.50 257.00,456.00 256.00,456.00 253.70,453.50 252.30,452.70 253.50,455.00 253.60,457.00 254.10,461.00 254.90,465.00 255.90,469.50"/>
<text stroke="none" x="262.94" y="440" font-size="10.5" letter-spacing="-0.018">NaOH</text>
<line x1="404.00" y1="538.50" x2="486.00" y2="538.50" stroke-width="1.0"/>
<polygon stroke="none" points="487.50,537.90 483.00,536.90 479.00,536.10 475.00,535.60 473.00,535.50 470.70,534.30 471.50,535.70 474.00,538.00 474.00,539.00 471.50,541.30 470.70,542.70 473.00,541.50 475.00,541.40 479.00,540.90 483.00,540.10 487.50,539.10"/>
<text stroke="none" x="422.14" y="528" font-size="10.5" letter-spacing="-0.162">NaOMe</text>
<line x1="632.50" y1="617.00" x2="631.50" y2="688.00" stroke-width="1.0"/>
<polygon stroke="none" points="632.10,689.50 633.10,685.00 633.90,681.00 634.40,677.00 634.50,675.00 635.70,672.70 634.30,673.50 632.00,676.00 631.00,676.00 628.70,673.50 627.30,672.70 628.50,675.00 628.60,677.00 629.10,681.00 629.90,685.00 630.90,689.50"/>
<text stroke="none" x="638.94" y="653" font-size="10.5" letter-spacing="-0.018">NaOH</text>
<text stroke="none" x="91.35" y="126" font-size="10.5" letter-spacing="0.196">(I)</text>
<text stroke="none" x="391.15" y="126" font-size="10.5" letter-spacing="-0.042">(II)</text>
<text stroke="none" x="661.45" y="126" font-size="10.5" letter-spacing="-0.361">(III)</text>
<text stroke="none" x="664.15" y="363" font-size="10.5" letter-spacing="0.596">(IV)</text>
<text stroke="none" x="372.15" y="363" font-size="10.5" letter-spacing="1.403">(V)</text>
<text stroke="none" x="122.15" y="363" font-size="10.5" letter-spacing="0.629">(VI)</text>
<text stroke="none" x="245.15" y="601" font-size="10.5" letter-spacing="0.243">(VII)</text>
<text stroke="none" x="620.25" y="601" font-size="10.5" letter-spacing="-0.029">(VIII)</text>
</g></svg></body></html>
